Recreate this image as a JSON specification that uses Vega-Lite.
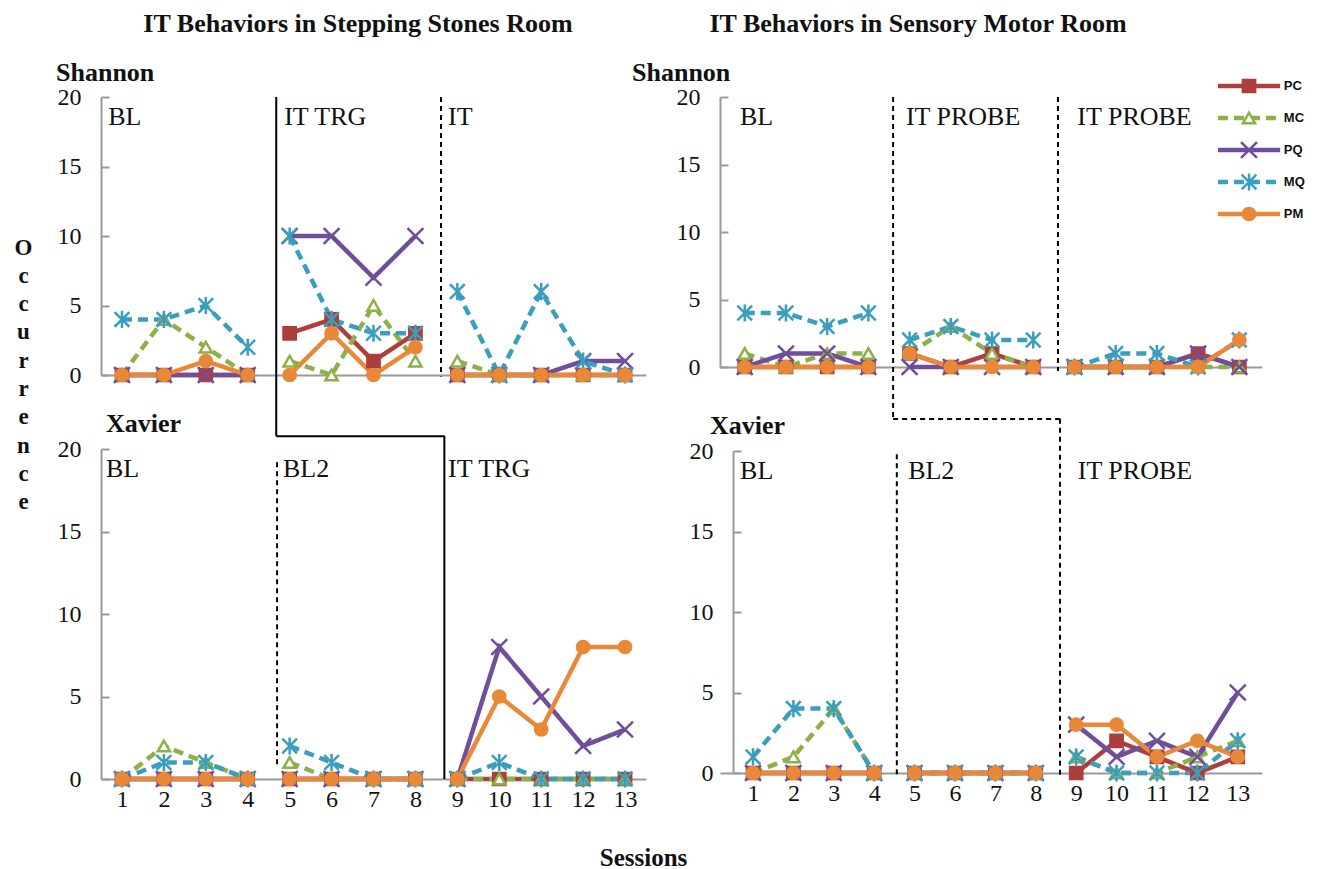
{
  "$schema": "https://vega.github.io/schema/vega-lite/v6.json",
  "background": "white",
  "padding": {"left": 14, "top": 10, "right": 0, "bottom": 0},
  "config": {
    "view": {"stroke": null},
    "font": "Liberation Serif",
    "legend": {"disable": true}
  },
  "datasets": {
    "obs": [
      {"room":"SS","child":"Shannon","s":1,"p":1,"PC":0,"MC":0,"PQ":0,"MQ":4,"PM":0},
      {"room":"SS","child":"Shannon","s":2,"p":1,"PC":0,"MC":4,"PQ":0,"MQ":4,"PM":0},
      {"room":"SS","child":"Shannon","s":3,"p":1,"PC":0,"MC":2,"PQ":0,"MQ":5,"PM":1},
      {"room":"SS","child":"Shannon","s":4,"p":1,"PC":0,"MC":0,"PQ":0,"MQ":2,"PM":0},
      {"room":"SS","child":"Shannon","s":5,"p":2,"PC":3,"MC":1,"PQ":10,"MQ":10,"PM":0},
      {"room":"SS","child":"Shannon","s":6,"p":2,"PC":4,"MC":0,"PQ":10,"MQ":4,"PM":3},
      {"room":"SS","child":"Shannon","s":7,"p":2,"PC":1,"MC":5,"PQ":7,"MQ":3,"PM":0},
      {"room":"SS","child":"Shannon","s":8,"p":2,"PC":3,"MC":1,"PQ":10,"MQ":3,"PM":2},
      {"room":"SS","child":"Shannon","s":9,"p":3,"PC":0,"MC":1,"PQ":0,"MQ":6,"PM":0},
      {"room":"SS","child":"Shannon","s":10,"p":3,"PC":0,"MC":0,"PQ":0,"MQ":0,"PM":0},
      {"room":"SS","child":"Shannon","s":11,"p":3,"PC":0,"MC":0,"PQ":0,"MQ":6,"PM":0},
      {"room":"SS","child":"Shannon","s":12,"p":3,"PC":0,"MC":0,"PQ":1,"MQ":1,"PM":0},
      {"room":"SS","child":"Shannon","s":13,"p":3,"PC":0,"MC":0,"PQ":1,"MQ":0,"PM":0},
      {"room":"SM","child":"Shannon","s":1,"p":1,"PC":0,"MC":1,"PQ":0,"MQ":4,"PM":0},
      {"room":"SM","child":"Shannon","s":2,"p":1,"PC":0,"MC":0,"PQ":1,"MQ":4,"PM":0},
      {"room":"SM","child":"Shannon","s":3,"p":1,"PC":0,"MC":1,"PQ":1,"MQ":3,"PM":0},
      {"room":"SM","child":"Shannon","s":4,"p":1,"PC":0,"MC":1,"PQ":0,"MQ":4,"PM":0},
      {"room":"SM","child":"Shannon","s":5,"p":2,"PC":1,"MC":1,"PQ":0,"MQ":2,"PM":1},
      {"room":"SM","child":"Shannon","s":6,"p":2,"PC":0,"MC":3,"PQ":0,"MQ":3,"PM":0},
      {"room":"SM","child":"Shannon","s":7,"p":2,"PC":1,"MC":1,"PQ":0,"MQ":2,"PM":0},
      {"room":"SM","child":"Shannon","s":8,"p":2,"PC":0,"MC":0,"PQ":0,"MQ":2,"PM":0},
      {"room":"SM","child":"Shannon","s":9,"p":3,"PC":0,"MC":0,"PQ":0,"MQ":0,"PM":0},
      {"room":"SM","child":"Shannon","s":10,"p":3,"PC":0,"MC":0,"PQ":0,"MQ":1,"PM":0},
      {"room":"SM","child":"Shannon","s":11,"p":3,"PC":0,"MC":0,"PQ":0,"MQ":1,"PM":0},
      {"room":"SM","child":"Shannon","s":12,"p":3,"PC":1,"MC":0,"PQ":1,"MQ":0,"PM":0},
      {"room":"SM","child":"Shannon","s":13,"p":3,"PC":0,"MC":0,"PQ":0,"MQ":2,"PM":2},
      {"room":"SS","child":"Xavier","s":1,"p":1,"PC":0,"MC":0,"PQ":0,"MQ":0,"PM":0},
      {"room":"SS","child":"Xavier","s":2,"p":1,"PC":0,"MC":2,"PQ":0,"MQ":1,"PM":0},
      {"room":"SS","child":"Xavier","s":3,"p":1,"PC":0,"MC":1,"PQ":0,"MQ":1,"PM":0},
      {"room":"SS","child":"Xavier","s":4,"p":1,"PC":0,"MC":0,"PQ":0,"MQ":0,"PM":0},
      {"room":"SS","child":"Xavier","s":5,"p":2,"PC":0,"MC":1,"PQ":0,"MQ":2,"PM":0},
      {"room":"SS","child":"Xavier","s":6,"p":2,"PC":0,"MC":0,"PQ":0,"MQ":1,"PM":0},
      {"room":"SS","child":"Xavier","s":7,"p":2,"PC":0,"MC":0,"PQ":0,"MQ":0,"PM":0},
      {"room":"SS","child":"Xavier","s":8,"p":2,"PC":0,"MC":0,"PQ":0,"MQ":0,"PM":0},
      {"room":"SS","child":"Xavier","s":9,"p":3,"PC":0,"MC":0,"PQ":0,"MQ":0,"PM":0},
      {"room":"SS","child":"Xavier","s":10,"p":3,"PC":0,"MC":0,"PQ":8,"MQ":1,"PM":5},
      {"room":"SS","child":"Xavier","s":11,"p":3,"PC":0,"MC":0,"PQ":5,"MQ":0,"PM":3},
      {"room":"SS","child":"Xavier","s":12,"p":3,"PC":0,"MC":0,"PQ":2,"MQ":0,"PM":8},
      {"room":"SS","child":"Xavier","s":13,"p":3,"PC":0,"MC":0,"PQ":3,"MQ":0,"PM":8},
      {"room":"SM","child":"Xavier","s":1,"p":1,"PC":0,"MC":0,"PQ":0,"MQ":1,"PM":0},
      {"room":"SM","child":"Xavier","s":2,"p":1,"PC":0,"MC":1,"PQ":0,"MQ":4,"PM":0},
      {"room":"SM","child":"Xavier","s":3,"p":1,"PC":0,"MC":4,"PQ":0,"MQ":4,"PM":0},
      {"room":"SM","child":"Xavier","s":4,"p":1,"PC":0,"MC":0,"PQ":0,"MQ":0,"PM":0},
      {"room":"SM","child":"Xavier","s":5,"p":2,"PC":0,"MC":0,"PQ":0,"MQ":0,"PM":0},
      {"room":"SM","child":"Xavier","s":6,"p":2,"PC":0,"MC":0,"PQ":0,"MQ":0,"PM":0},
      {"room":"SM","child":"Xavier","s":7,"p":2,"PC":0,"MC":0,"PQ":0,"MQ":0,"PM":0},
      {"room":"SM","child":"Xavier","s":8,"p":2,"PC":0,"MC":0,"PQ":0,"MQ":0,"PM":0},
      {"room":"SM","child":"Xavier","s":9,"p":3,"PC":0,"MC":1,"PQ":3,"MQ":1,"PM":3},
      {"room":"SM","child":"Xavier","s":10,"p":3,"PC":2,"MC":0,"PQ":1,"MQ":0,"PM":3},
      {"room":"SM","child":"Xavier","s":11,"p":3,"PC":1,"MC":0,"PQ":2,"MQ":0,"PM":1},
      {"room":"SM","child":"Xavier","s":12,"p":3,"PC":0,"MC":1,"PQ":1,"MQ":0,"PM":2},
      {"room":"SM","child":"Xavier","s":13,"p":3,"PC":1,"MC":2,"PQ":5,"MQ":2,"PM":1}
    ]
  },
  "spacing": -55,
  "hconcat": [
    {
      "bounds": "flush",
      "spacing": 74,
      "title": {"text": "IT Behaviors in Stepping Stones Room", "frame": "group", "anchor": "middle", "dx": 257, "offset": 23, "font": "Liberation Serif", "fontSize": 26, "fontWeight": "bold", "color": "#111"},
      "vconcat": [
        {
          "width": 545, "height": 278,
          "title": {"text": "Shannon", "anchor": "start", "frame": "group", "dx": -45, "offset": -1, "font": "Liberation Serif", "fontSize": 26, "fontWeight": "bold", "color": "#111"},
          "encoding": {
            "x": {"field": "s", "type": "quantitative", "scale": {"domain": [0.5, 13.5], "nice": false, "zero": false},
                  "axis": {"title": null, "labels": false, "ticks": false, "grid": false, "domainColor": "#9a9a9a", "domainWidth": 2}}
          },
          "layer": [
            {"data": {"name": "obs"},
             "transform": [{"filter": "datum.room == 'SS' && datum.child == 'Shannon'"}, {"fold": ["PC","MC","PQ","MQ","PM"], "as": ["series", "value"]}],
             "mark": {"type": "line", "strokeWidth": 4.5},
             "encoding": {
               "y": {"field": "value", "type": "quantitative", "scale": {"domain": [0, 20], "nice": false, "zero": false},
                     "axis": {"values": [0,5,10,15,20], "grid": false, "domainColor": "#9a9a9a", "domainWidth": 2, "tickColor": "#9a9a9a", "tickWidth": 2, "tickSize": -8, "labelPadding": 28, "labelFont": "Liberation Serif", "labelFontSize": 24, "labelColor": "#111",
                              "title": ["O","c","c","u","r","r","e","n","c","e"], "titleAngle": 0, "titleFont": "Liberation Serif", "titleFontSize": 23, "titleFontWeight": "bold", "titleColor": "#111", "titleLineHeight": 28.3, "titleAlign": "center", "titleBaseline": "top", "titleX": -78, "titleY": 139}},
               "color": {"field": "series", "type": "nominal", "scale": {"domain": ["PC","MC","PQ","MQ","PM"], "range": ["#AD3E3C","#8DB049","#6F4E9B","#3A9EBE","#E98838"]}},
               "strokeDash": {"field": "series", "type": "nominal", "scale": {"domain": ["PC","MC","PQ","MQ","PM"], "range": [[1,0],[10,6],[1,0],[10,6],[1,0]]}},
               "detail": {"field": "p", "type": "nominal"}
             }},
            {"data": {"values": [{"s": 4.68, "s2": 4.68, "value": 20, "value2": -4.4}, {"s": 4.68, "s2": 8.69, "value": -4.4, "value2": -4.4}]},
             "mark": {"type": "rule", "color": "black", "strokeWidth": 2},
             "encoding": {"y": {"field": "value", "type": "quantitative"}, "x2": {"field": "s2"}, "y2": {"field": "value2"}}},
            {"data": {"values": [{"s": 8.61, "s2": 8.61, "value": 20, "value2": -0.1}]},
             "mark": {"type": "rule", "color": "black", "strokeWidth": 2, "strokeDash": [5, 4]},
             "encoding": {"y": {"field": "value", "type": "quantitative"}, "x2": {"field": "s2"}, "y2": {"field": "value2"}}},
            {"data": {"name": "obs"},
             "transform": [{"filter": "datum.room == 'SS' && datum.child == 'Shannon'"}, {"fold": ["PC","MC","PQ","MQ","PM"], "as": ["series", "value"]}],
             "mark": {"type": "point", "filled": true, "size": 150, "strokeWidth": 2.5, "opacity": 1},
             "encoding": {
               "y": {"field": "value", "type": "quantitative"},
               "shape": {"field": "series", "type": "nominal", "scale": {"domain": ["PC","MC","PQ","MQ","PM"], "range": ["square","triangle-up","M-1.3,-1.3L1.3,1.3M-1.3,1.3L1.3,-1.3","M-1.2,-1.2L1.2,1.2M-1.2,1.2L1.2,-1.2M0,-1.4L0,1.4","circle"]}},
               "fill": {"field": "series", "type": "nominal", "scale": {"domain": ["PC","MC","PQ","MQ","PM"], "range": ["#AD3E3C","#ffffff","#6F4E9B","#3A9EBE","#E98838"]}},
               "stroke": {"field": "series", "type": "nominal", "scale": {"domain": ["PC","MC","PQ","MQ","PM"], "range": ["#AD3E3C","#8DB049","#6F4E9B","#3A9EBE","#E98838"]}}
             }},
            {"data": {"values": [{"s": 0.67, "label": "BL"}, {"s": 4.87, "label": "IT TRG"}, {"s": 8.78, "label": "IT"}]},
             "mark": {"type": "text", "align": "left", "baseline": "middle", "dy": 20, "font": "Liberation Serif", "fontSize": 26, "color": "#111"},
             "encoding": {"y": {"datum": 20, "type": "quantitative"}, "text": {"field": "label"}}}
          ]
        },
        {
          "width": 545, "height": 330,
          "title": {"text": "Xavier", "anchor": "start", "frame": "group", "dx": 5, "offset": -2, "font": "Liberation Serif", "fontSize": 26, "fontWeight": "bold", "color": "#111"},
          "encoding": {
            "x": {"field": "s", "type": "quantitative", "scale": {"domain": [0.5, 13.5], "nice": false, "zero": false},
                  "axis": {"values": [1,2,3,4,5,6,7,8,9,10,11,12,13], "ticks": false, "grid": false, "domainColor": "#9a9a9a", "domainWidth": 2, "labelPadding": 8, "labelFont": "Liberation Serif", "labelFontSize": 24, "labelColor": "#111",
                           "title": "Sessions", "titleFont": "Liberation Serif", "titleFontSize": 25, "titleFontWeight": "bold", "titleColor": "#111", "titleAlign": "center", "titleBaseline": "middle", "titleX": 542, "titleY": 78}}
          },
          "layer": [
            {"data": {"name": "obs"},
             "transform": [{"filter": "datum.room == 'SS' && datum.child == 'Xavier'"}, {"fold": ["PC","MC","PQ","MQ","PM"], "as": ["series", "value"]}],
             "mark": {"type": "line", "strokeWidth": 4.5},
             "encoding": {
               "y": {"field": "value", "type": "quantitative", "scale": {"domain": [0, 20], "nice": false, "zero": false},
                     "axis": {"title": null, "values": [0,5,10,15,20], "grid": false, "domainColor": "#9a9a9a", "domainWidth": 2, "tickColor": "#9a9a9a", "tickWidth": 2, "tickSize": -8, "labelPadding": 28, "labelFont": "Liberation Serif", "labelFontSize": 24, "labelColor": "#111"}},
               "color": {"field": "series", "type": "nominal", "scale": {"domain": ["PC","MC","PQ","MQ","PM"], "range": ["#AD3E3C","#8DB049","#6F4E9B","#3A9EBE","#E98838"]}},
               "strokeDash": {"field": "series", "type": "nominal", "scale": {"domain": ["PC","MC","PQ","MQ","PM"], "range": [[1,0],[10,6],[1,0],[10,6],[1,0]]}},
               "detail": {"field": "p", "type": "nominal"}
             }},
            {"data": {"values": [{"s": 8.69, "s2": 8.69, "value": 20.8, "value2": 0}]},
             "mark": {"type": "rule", "color": "black", "strokeWidth": 2},
             "encoding": {"y": {"field": "value", "type": "quantitative"}, "x2": {"field": "s2"}, "y2": {"field": "value2"}}},
            {"data": {"values": [{"s": 4.7, "s2": 4.7, "value": 19.2, "value2": 0.7}]},
             "mark": {"type": "rule", "color": "black", "strokeWidth": 2, "strokeDash": [5, 4]},
             "encoding": {"y": {"field": "value", "type": "quantitative"}, "x2": {"field": "s2"}, "y2": {"field": "value2"}}},
            {"data": {"name": "obs"},
             "transform": [{"filter": "datum.room == 'SS' && datum.child == 'Xavier'"}, {"fold": ["PC","MC","PQ","MQ","PM"], "as": ["series", "value"]}],
             "mark": {"type": "point", "filled": true, "size": 150, "strokeWidth": 2.5, "opacity": 1},
             "encoding": {
               "y": {"field": "value", "type": "quantitative"},
               "shape": {"field": "series", "type": "nominal", "scale": {"domain": ["PC","MC","PQ","MQ","PM"], "range": ["square","triangle-up","M-1.3,-1.3L1.3,1.3M-1.3,1.3L1.3,-1.3","M-1.2,-1.2L1.2,1.2M-1.2,1.2L1.2,-1.2M0,-1.4L0,1.4","circle"]}},
               "fill": {"field": "series", "type": "nominal", "scale": {"domain": ["PC","MC","PQ","MQ","PM"], "range": ["#AD3E3C","#ffffff","#6F4E9B","#3A9EBE","#E98838"]}},
               "stroke": {"field": "series", "type": "nominal", "scale": {"domain": ["PC","MC","PQ","MQ","PM"], "range": ["#AD3E3C","#8DB049","#6F4E9B","#3A9EBE","#E98838"]}}
             }},
            {"data": {"values": [{"s": 0.62, "label": "BL"}, {"s": 4.84, "label": "BL2"}, {"s": 8.78, "label": "IT TRG"}]},
             "mark": {"type": "text", "align": "left", "baseline": "middle", "dy": 20, "font": "Liberation Serif", "fontSize": 26, "color": "#111"},
             "encoding": {"y": {"datum": 20, "type": "quantitative"}, "text": {"field": "label"}}}
          ]
        }
      ]
    },
    {
      "bounds": "flush",
      "spacing": 84,
      "title": {"text": "IT Behaviors in Sensory Motor Room", "frame": "group", "anchor": "middle", "dx": 198, "offset": 23, "font": "Liberation Serif", "fontSize": 26, "fontWeight": "bold", "color": "#111"},
      "vconcat": [
        {
          "width": 542, "height": 270,
          "title": {"text": "Shannon", "anchor": "start", "frame": "group", "dx": -88, "offset": -11, "font": "Liberation Serif", "fontSize": 26, "fontWeight": "bold", "color": "#111"},
          "resolve": {"scale": {"y": "independent"}, "axis": {"y": "independent"}},
          "layer": [
            {
              "encoding": {
                "x": {"field": "s", "type": "quantitative", "scale": {"domain": [0.4, 13.55], "nice": false, "zero": false},
                      "axis": {"title": null, "labels": false, "ticks": false, "grid": false, "domainColor": "#9a9a9a", "domainWidth": 2}}
              },
              "layer": [
                {"data": {"name": "obs"},
                 "transform": [{"filter": "datum.room == 'SM' && datum.child == 'Shannon'"}, {"fold": ["PC","MC","PQ","MQ","PM"], "as": ["series", "value"]}],
                 "mark": {"type": "line", "strokeWidth": 4.5},
                 "encoding": {
                   "y": {"field": "value", "type": "quantitative", "scale": {"domain": [0, 20], "nice": false, "zero": false},
                         "axis": {"title": null, "values": [0,5,10,15,20], "grid": false, "domainColor": "#9a9a9a", "domainWidth": 2, "tickColor": "#9a9a9a", "tickWidth": 2, "tickSize": -8, "labelPadding": 28, "labelFont": "Liberation Serif", "labelFontSize": 24, "labelColor": "#111"}},
                   "color": {"field": "series", "type": "nominal", "scale": {"domain": ["PC","MC","PQ","MQ","PM"], "range": ["#AD3E3C","#8DB049","#6F4E9B","#3A9EBE","#E98838"]}},
                   "strokeDash": {"field": "series", "type": "nominal", "scale": {"domain": ["PC","MC","PQ","MQ","PM"], "range": [[1,0],[10,6],[1,0],[10,6],[1,0]]}},
                   "detail": {"field": "p", "type": "nominal"}
                 }},
                {"data": {"values": [{"s": 4.6, "s2": 4.6, "value": 20, "value2": -3.85}, {"s": 4.6, "s2": 8.65, "value": -3.85, "value2": -3.85}, {"s": 8.6, "s2": 8.6, "value": 20, "value2": -0.3}]},
                 "mark": {"type": "rule", "color": "black", "strokeWidth": 2, "strokeDash": [5, 4]},
                 "encoding": {"y": {"field": "value", "type": "quantitative"}, "x2": {"field": "s2"}, "y2": {"field": "value2"}}},
                {"data": {"name": "obs"},
                 "transform": [{"filter": "datum.room == 'SM' && datum.child == 'Shannon'"}, {"fold": ["PC","MC","PQ","MQ","PM"], "as": ["series", "value"]}],
                 "mark": {"type": "point", "filled": true, "size": 150, "strokeWidth": 2.5, "opacity": 1},
                 "encoding": {
                   "y": {"field": "value", "type": "quantitative"},
                   "shape": {"field": "series", "type": "nominal", "scale": {"domain": ["PC","MC","PQ","MQ","PM"], "range": ["square","triangle-up","M-1.3,-1.3L1.3,1.3M-1.3,1.3L1.3,-1.3","M-1.2,-1.2L1.2,1.2M-1.2,1.2L1.2,-1.2M0,-1.4L0,1.4","circle"]}},
                   "fill": {"field": "series", "type": "nominal", "scale": {"domain": ["PC","MC","PQ","MQ","PM"], "range": ["#AD3E3C","#ffffff","#6F4E9B","#3A9EBE","#E98838"]}},
                   "stroke": {"field": "series", "type": "nominal", "scale": {"domain": ["PC","MC","PQ","MQ","PM"], "range": ["#AD3E3C","#8DB049","#6F4E9B","#3A9EBE","#E98838"]}}
                 }},
                {"data": {"values": [{"s": 0.885, "label": "BL"}, {"s": 4.91, "label": "IT PROBE"}, {"s": 9.07, "label": "IT PROBE"}]},
                 "mark": {"type": "text", "align": "left", "baseline": "middle", "dy": 20, "font": "Liberation Serif", "fontSize": 26, "color": "#111"},
                 "encoding": {"y": {"datum": 20, "type": "quantitative"}, "text": {"field": "label"}}}
              ]
            },
            {
              "data": {"values": [{"series": "PC"}, {"series": "MC"}, {"series": "PQ"}, {"series": "MQ"}, {"series": "PM"}]},
              "encoding": {
                "y": {"field": "series", "type": "nominal", "scale": {"type": "point", "domain": ["PC","MC","PQ","MQ","PM"], "range": [-11, 117], "padding": 0}, "axis": null}
              },
              "layer": [
                {"mark": {"type": "rule", "strokeWidth": 4.5},
                 "encoding": {
                   "x": {"datum": 12.48, "type": "quantitative"}, "x2": {"datum": 13.99},
                   "color": {"field": "series", "type": "nominal", "scale": {"domain": ["PC","MC","PQ","MQ","PM"], "range": ["#AD3E3C","#8DB049","#6F4E9B","#3A9EBE","#E98838"]}},
                   "strokeDash": {"field": "series", "type": "nominal", "scale": {"domain": ["PC","MC","PQ","MQ","PM"], "range": [[1,0],[10,6],[1,0],[10,6],[1,0]]}}
                 }},
                {"mark": {"type": "point", "filled": true, "size": 150, "strokeWidth": 2.5, "opacity": 1},
                 "encoding": {
                   "x": {"datum": 13.235, "type": "quantitative"},
                   "shape": {"field": "series", "type": "nominal", "scale": {"domain": ["PC","MC","PQ","MQ","PM"], "range": ["square","triangle-up","M-1.3,-1.3L1.3,1.3M-1.3,1.3L1.3,-1.3","M-1.2,-1.2L1.2,1.2M-1.2,1.2L1.2,-1.2M0,-1.4L0,1.4","circle"]}},
                   "fill": {"field": "series", "type": "nominal", "scale": {"domain": ["PC","MC","PQ","MQ","PM"], "range": ["#AD3E3C","#ffffff","#6F4E9B","#3A9EBE","#E98838"]}},
                   "stroke": {"field": "series", "type": "nominal", "scale": {"domain": ["PC","MC","PQ","MQ","PM"], "range": ["#AD3E3C","#8DB049","#6F4E9B","#3A9EBE","#E98838"]}}
                 }},
                {"mark": {"type": "text", "align": "left", "baseline": "middle", "font": "Liberation Sans", "fontWeight": "bold", "fontSize": 13, "color": "#111"},
                 "encoding": {
                   "x": {"datum": 14.08, "type": "quantitative"},
                   "text": {"field": "series"}
                 }}
              ]
            }
          ]
        },
        {
          "width": 542, "height": 322,
          "title": {"text": "Xavier", "anchor": "start", "frame": "group", "dx": -10, "offset": -21, "font": "Liberation Serif", "fontSize": 26, "fontWeight": "bold", "color": "#111"},
          "encoding": {
            "x": {"field": "s", "type": "quantitative", "scale": {"domain": [0.183, 13.6], "nice": false, "zero": false},
                  "axis": {"title": null, "values": [1,2,3,4,5,6,7,8,9,10,11,12,13], "ticks": false, "grid": false, "domainColor": "#9a9a9a", "domainWidth": 2, "labelPadding": 8, "labelFont": "Liberation Serif", "labelFontSize": 24, "labelColor": "#111"}}
          },
          "layer": [
            {"data": {"name": "obs"},
             "transform": [{"filter": "datum.room == 'SM' && datum.child == 'Xavier'"}, {"fold": ["PC","MC","PQ","MQ","PM"], "as": ["series", "value"]}],
             "mark": {"type": "line", "strokeWidth": 4.5},
             "encoding": {
               "y": {"field": "value", "type": "quantitative", "scale": {"domain": [0, 20], "nice": false, "zero": false},
                     "axis": {"title": null, "offset": -13, "values": [0,5,10,15,20], "grid": false, "domainColor": "#9a9a9a", "domainWidth": 2, "tickColor": "#9a9a9a", "tickWidth": 2, "tickSize": -8, "labelPadding": 28, "labelFont": "Liberation Serif", "labelFontSize": 24, "labelColor": "#111"}},
               "color": {"field": "series", "type": "nominal", "scale": {"domain": ["PC","MC","PQ","MQ","PM"], "range": ["#AD3E3C","#8DB049","#6F4E9B","#3A9EBE","#E98838"]}},
               "strokeDash": {"field": "series", "type": "nominal", "scale": {"domain": ["PC","MC","PQ","MQ","PM"], "range": [[1,0],[10,6],[1,0],[10,6],[1,0]]}},
               "detail": {"field": "p", "type": "nominal"}
             }},
            {"data": {"values": [{"s": 8.6, "s2": 8.6, "value": 22, "value2": -0.2}, {"s": 4.56, "s2": 4.56, "value": 19.8, "value2": -0.2}]},
             "mark": {"type": "rule", "color": "black", "strokeWidth": 2, "strokeDash": [5, 4]},
             "encoding": {"y": {"field": "value", "type": "quantitative"}, "x2": {"field": "s2"}, "y2": {"field": "value2"}}},
            {"data": {"name": "obs"},
             "transform": [{"filter": "datum.room == 'SM' && datum.child == 'Xavier'"}, {"fold": ["PC","MC","PQ","MQ","PM"], "as": ["series", "value"]}],
             "mark": {"type": "point", "filled": true, "size": 150, "strokeWidth": 2.5, "opacity": 1},
             "encoding": {
               "y": {"field": "value", "type": "quantitative"},
               "shape": {"field": "series", "type": "nominal", "scale": {"domain": ["PC","MC","PQ","MQ","PM"], "range": ["square","triangle-up","M-1.3,-1.3L1.3,1.3M-1.3,1.3L1.3,-1.3","M-1.2,-1.2L1.2,1.2M-1.2,1.2L1.2,-1.2M0,-1.4L0,1.4","circle"]}},
               "fill": {"field": "series", "type": "nominal", "scale": {"domain": ["PC","MC","PQ","MQ","PM"], "range": ["#AD3E3C","#ffffff","#6F4E9B","#3A9EBE","#E98838"]}},
               "stroke": {"field": "series", "type": "nominal", "scale": {"domain": ["PC","MC","PQ","MQ","PM"], "range": ["#AD3E3C","#8DB049","#6F4E9B","#3A9EBE","#E98838"]}}
             }},
            {"data": {"values": [{"s": 0.68, "label": "BL"}, {"s": 4.84, "label": "BL2"}, {"s": 9.04, "label": "IT PROBE"}]},
             "mark": {"type": "text", "align": "left", "baseline": "middle", "dy": 20, "font": "Liberation Serif", "fontSize": 26, "color": "#111"},
             "encoding": {"y": {"datum": 20, "type": "quantitative"}, "text": {"field": "label"}}}
          ]
        }
      ]
    }
  ]
}
